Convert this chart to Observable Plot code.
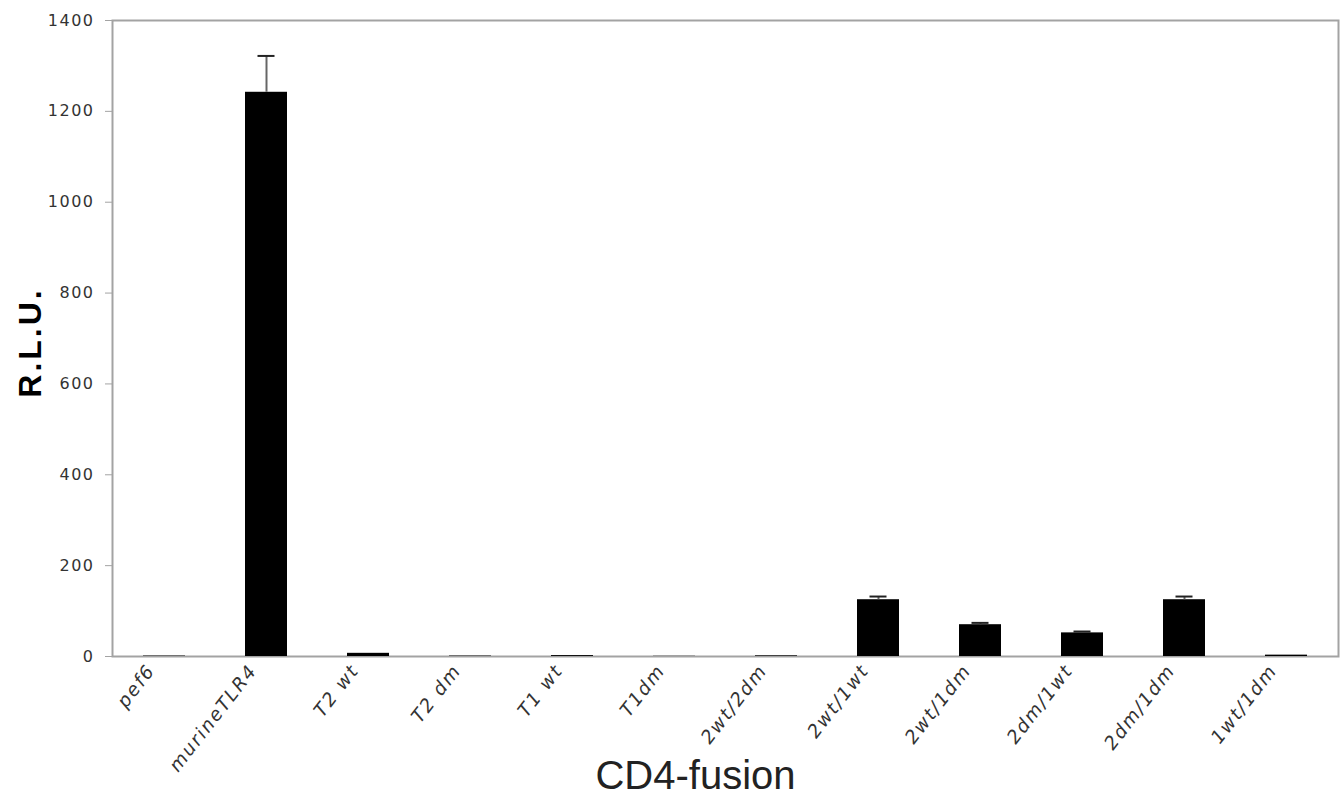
<!DOCTYPE html>
<html>
<head>
<meta charset="utf-8">
<script src="https://cdn.jsdelivr.net/npm/d3@7"></script>
<script src="https://cdn.jsdelivr.net/npm/@observablehq/plot@0.6"></script>
<style>
  html, body { margin: 0; padding: 0; background: #fff; }
  .chart g[aria-label="y-axis tick label"] text { letter-spacing: 1.5px; }
  .chart g.xlab text { letter-spacing: 1.8px; font-style: oblique; }
  .chart g.ylab text { letter-spacing: 3px; }
</style>
</head>
<body>
<div id="chart"></div>
<script>
const categories = ["pef6", "murineTLR4", "T2 wt", "T2 dm", "T1 wt", "T1dm", "2wt/2dm", "2wt/1wt", "2wt/1dm", "2dm/1wt", "2dm/1dm", "1wt/1dm"];
const values = [1, 1242, 7, 1, 2, 0.5, 1.5, 125, 70, 52, 125, 3];
const errors = [0, 80, 0, 0, 0, 0, 0, 7, 4, 3, 7, 0];
const yTicks = [0, 200, 400, 600, 800, 1000, 1200, 1400];
const xTitle = "CD4-fusion";
const yTitle = "R.L.U.";

const data = categories.map((c, i) => ({cat: c, value: values[i], err: errors[i]}));
const errData = data.filter(d => d.err > 0);

const chart = Plot.plot({
  className: "chart",
  width: 1342,
  height: 798,
  marginLeft: 112,
  marginRight: 4,
  marginTop: 20,
  marginBottom: 142,
  style: {background: "#fff", fontFamily: "DejaVu Sans"},
  x: {domain: categories, paddingInner: 0.59, paddingOuter: 0.295, axis: null},
  y: {domain: [0, 1400], axis: null},
  marks: [
    Plot.frame({stroke: "#a3a3a3", strokeWidth: 2}),
    Plot.axisY({ticks: yTicks, tickFormat: d3.format("d"), tickSize: 7, tickPadding: 11,
      stroke: "#a3a3a3", fill: "#333", fontSize: 16, fontFamily: "DejaVu Sans", label: null}),
    Plot.barY(data, {x: "cat", y: "value", fill: "#000"}),
    Plot.ruleX(errData, {x: "cat", y1: "value", y2: d => d.value + d.err, stroke: "#666", strokeWidth: 2}),
    Plot.tickY(errData, {x: "cat", y: d => d.value + d.err, stroke: "#222", strokeWidth: 2, insetLeft: 12.5, insetRight: 12.5}),
    Plot.text(categories, {x: d => d, frameAnchor: "bottom", rotate: -52, textAnchor: "end",
      lineAnchor: "top", dx: -19, dy: 6, fontSize: 18.5, fontStyle: "italic", fill: "#333",
      fontFamily: "DejaVu Sans", className: "xlab"}),
    Plot.text([xTitle], {frameAnchor: "bottom", dx: -30, dy: 120, lineAnchor: "middle",
      fontSize: 40, fontFamily: "Liberation Sans", fill: "#222"}),
    Plot.text([yTitle], {frameAnchor: "left", textAnchor: "middle", dx: -82, dy: 4, rotate: -90, lineAnchor: "middle",
      fontSize: 32, fontWeight: "bold", fontFamily: "Liberation Sans", fill: "#000", className: "ylab"})
  ]
});
document.getElementById("chart").appendChild(chart);
</script>
</body>
</html>
